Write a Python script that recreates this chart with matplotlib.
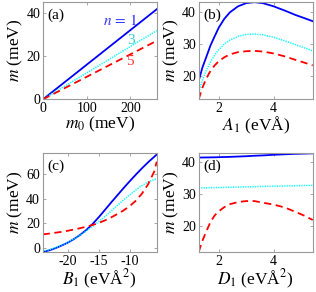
import numpy as np
import matplotlib
matplotlib.use("Agg")
from matplotlib import pyplot as plt

plt.rcParams['font.family'] = ['Liberation Serif', 'DejaVu Serif']
plt.rcParams['mathtext.fontset'] = 'stix'
plt.rcParams['axes.unicode_minus'] = False

# (a) m vs m0, straight lines
m0 = [0, 260]
a_n1 = [0.0, 41.7]
a_n3 = [0.0, 31.8]
a_n5 = [0.0, 27.1]

# (b) m vs A1
A1 = [1.27, 1.4, 1.55, 1.7, 1.85, 2.0, 2.2, 2.4, 2.7, 3.0, 3.3, 3.6, 4.0, 4.4, 4.8, 5.1, 5.42]
b_n1 = [18.5, 22.5, 26.0, 29.5, 32.3, 35.0, 37.7, 39.7, 41.6, 42.6, 42.9, 42.6, 41.6, 40.3, 38.9, 38.0, 37.0]
b_n3 = [15.0, 18.6, 21.8, 24.4, 26.5, 28.2, 29.9, 31.1, 32.3, 32.9, 33.0, 32.8, 32.0, 30.9, 29.7, 28.8, 27.8]
b_n5 = [12.8, 16.3, 19.3, 21.6, 23.3, 24.6, 25.8, 26.7, 27.4, 27.7, 27.8, 27.6, 27.0, 26.1, 25.0, 24.2, 23.3]

# (c) m vs B1
B1 = [-24.1, -23, -22, -21, -20, -19, -18, -17, -16, -15, -14, -13, -12, -11, -10, -9, -8, -7, -6, -5.6]
c_n1 = [-3.4, -2.0, -0.2, 1.9, 4.3, 7.2, 10.6, 14.6, 19.4, 24.9, 30.8, 36.8, 42.6, 48.4, 54.0, 59.4, 64.6, 69.5, 74.0, 75.8]
c_n3 = [-2.8, -1.5, 0.2, 2.2, 4.6, 7.3, 10.3, 13.8, 17.5, 21.3, 25.5, 29.8, 34.3, 38.8, 43.0, 47.0, 50.6, 53.5, 55.5, 56.0]
c_n5 = [10.9, 11.6, 12.3, 13.0, 13.9, 14.9, 16.0, 17.2, 18.6, 20.2, 22.3, 24.7, 27.4, 30.3, 33.8, 38.2, 44.0, 51.6, 62.0, 70.0]

# (d) m vs D1
D1 = [1.27, 1.4, 1.55, 1.7, 1.85, 2.0, 2.2, 2.4, 2.7, 3.0, 3.3, 3.6, 4.0, 4.4, 4.8, 5.1, 5.42]
d_n1 = [41.4, 41.4, 41.42, 41.44, 41.46, 41.5, 41.55, 41.6, 41.7, 41.8, 41.95, 42.05, 42.25, 42.4, 42.55, 42.62, 42.7]
d_n3 = [31.9, 31.92, 31.95, 31.98, 32.0, 32.03, 32.07, 32.1, 32.17, 32.23, 32.3, 32.36, 32.44, 32.52, 32.6, 32.65, 32.7]
d_n5 = [11.9, 15.3, 18.4, 21.3, 23.3, 24.6, 25.9, 26.8, 27.5, 27.8, 27.8, 27.3, 26.7, 25.8, 24.4, 23.3, 21.9]

styles = [dict(color='#0000ff', ls='-', lw=1.3),
          dict(color='#00ffff', ls=(0, (0.8, 0.8)), lw=1.1),
          dict(color='#ff0000', ls=(0, (4, 2.5)), lw=1.3)]

fig = plt.figure(figsize=(3.16, 2.92), dpi=100)
W, H = 316, 292

def make_ax(l, r, t, b):
    return fig.add_axes([l / W, 1 - b / H, (r - l) / W, (b - t) / H])

ax_a = make_ax(43, 156.7, 1.5, 99.3)
ax_b = make_ax(198.7, 312.7, 1.5, 99.3)
ax_c = make_ax(42.7, 156.7, 152.7, 252)
ax_d = make_ax(198.7, 312.7, 152.7, 252)

panels = [
    (ax_a, m0, [a_n1, a_n3, a_n5], (0, 260), (0, 45.3), [0, 100, 200], [0, 20, 40], r'$m_0$ (meV)', '(a)'),
    (ax_b, A1, [b_n1, b_n3, b_n5], (1.27, 5.42), (12.8, 43.1), [2, 4], [20, 30, 40], r'$A_1$ (eVÅ)', '(b)'),
    (ax_c, B1, [c_n1, c_n3, c_n5], (-24.1, -5.6), (-3.4, 77.3), [-20, -15, -10], [0, 20, 40, 60], r'$B_1$ (eVÅ$^2$)', '(c)'),
    (ax_d, D1, [d_n1, d_n3, d_n5], (1.27, 5.42), (11.9, 42.9), [2, 4], [20, 30, 40], r'$D_1$ (eVÅ$^2$)', '(d)'),
]

for ax, x, ys, xl, yl, xt, yt, xlab, tag in panels:
    for y, st in zip(ys, styles):
        ax.plot(x, y, **st)
    ax.set_xlim(*xl)
    ax.set_ylim(*yl)
    ax.set_xticks(xt)
    ax.set_yticks(yt)
    ax.tick_params(direction='in', top=True, right=True, length=2.5, width=0.6,
                   color='0.6', labelsize=10, pad=2)
    for s in ax.spines.values():
        s.set_color('0.6')
        s.set_linewidth(0.8)
    ax.set_xlabel(xlab.replace(' (', r'$\ $('), fontsize=12.5, labelpad=0)
    ax.set_ylabel(r'$m$$\ $(meV)', fontsize=12.5, labelpad=1)
    ax.text(0.04, 0.86, tag, transform=ax.transAxes, fontsize=11, va='center', ha='left')

ax_a.text(0.675, 0.81, r'$n\,=\,1$', transform=ax_a.transAxes, color='#3333ff', fontsize=11, ha='center', va='center')
ax_a.text(0.77, 0.60, '3', transform=ax_a.transAxes, color='#33cccc', fontsize=11, ha='center', va='center')
ax_a.text(0.765, 0.385, '5', transform=ax_a.transAxes, color='#ff3333', fontsize=11, ha='center', va='center')

fig.savefig('out.png', dpi=100)
